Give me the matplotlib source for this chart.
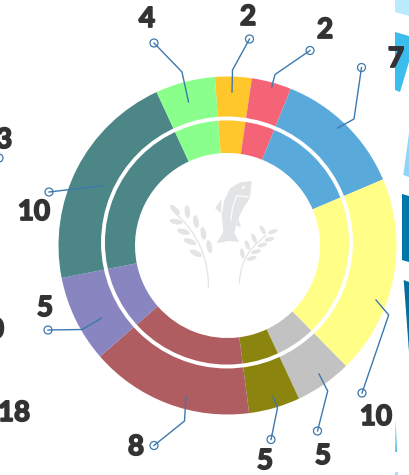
import matplotlib
matplotlib.use("Agg")
import matplotlib.pyplot as plt
import matplotlib.patheffects as pe
from matplotlib.patches import Circle, Ellipse, Polygon, PathPatch
from matplotlib.path import Path

# slice spans in degrees, clockwise from the orange one
spans = [12.6, 13.7, 45.0, 68.5, 19.5, 17.7, 56.3, 30.0, 76.3, 20.5]
colors = ["#FFC72C", "#F56476", "#5AA9DB", "#FFFF88", "#C2C2C2",
          "#8B8510", "#AF5D60", "#8885C0", "#4C8686", "#8BFF8B"]

# callout text with the text centre in pixels
labels = ["2", "2", "7", "10", "5", "5", "8", "5", "10", "4", "13", "10", "18"]
label_x = [248, 325, 396, 376, 323, 265, 136, 45, 34, 147, -4, -12, 14]
label_y = [17, 30, 59, 417, 456, 461, 447, 308, 212, 19, 140, 330, 413]

# leader lines, start on the ring and ending at the small circle
leaders = [
    [(232, 92), (232.5, 70), (249.5, 39)],
    [(271.7, 87), (275, 74.5), (310, 50.5)],
    [(337.7, 128), (354, 119), (361.5, 67.5)],
    [(376, 300), (388.7, 315), (362, 393)],
    [(319, 374), (327.7, 391), (317.5, 431)],
    [(273, 396), (277.5, 408), (271, 439.5)],
    [(186, 396.7), (184.5, 421), (154, 445.5)],
    [(101.7, 318), (82, 329.5), (48, 330)],
    [(103, 185.7), (49, 192)],
    [(188.5, 102), (182, 72), (154, 43)],
]

# bits of the next graphic that are cut by the right edge
edge_shapes = [
    ("#B9EBFD", [(395, 0), (409, 0), (409, 16), (395, 12)]),
    ("#3BBDEE", [(395, 32), (409, 36), (409, 62), (400, 92), (395, 90)]),
    ("#8FD6F6", [(409, 133), (403.3, 175), (409, 177)]),
    ("#0077AB", [(402, 194), (409, 196), (409, 262), (402, 260)]),
    ("#086E9C", [(403.7, 280), (409, 282), (409, 352)]),
    ("#2FA6DC", [(395.7, 420), (396.9, 452), (395.4, 452)]),
    ("#A9E3FB", [(395, 472), (398, 472), (398, 475), (395, 475)]),
]

LINE = "#3D78AE"
TEXT = "#333335"
LOGO = "#E3E4E6"

fig = plt.figure(figsize=(4.09, 4.75), dpi=100)
ax = fig.add_axes([0, 0, 1, 1])

# y runs downward here, so a counterclockwise pie shows up clockwise
ax.pie(spans, colors=colors, center=(227.5, 245.5), radius=169,
       startangle=-94.3, counterclock=True,
       wedgeprops={"width": 76.5, "linewidth": 0})
ax.set_xlim(0, 409)
ax.set_ylim(475, 0)
ax.set_aspect("equal")
ax.axis("off")

ax.add_patch(Circle((227, 242.5), 124, fill=False, ec="white", lw=2.8))

for pts in leaders:
    xs, ys = zip(*pts)
    ax.plot(xs, ys, color=LINE, lw=1)
    ax.add_patch(Circle(pts[-1], 4, fill=False, ec=LINE, lw=0.9))
ax.add_patch(Circle((-1, 158), 4, fill=False, ec=LINE, lw=0.9))

for txt, x, y in zip(labels, label_x, label_y):
    t = ax.text(x, y, txt, ha="center", va="center", fontsize=20,
                family="Lato", fontweight="bold", color=TEXT)
    # thicken the strokes, the original digits are very heavy
    t.set_path_effects([pe.withStroke(linewidth=1.3, foreground=TEXT)])

for col, pts in edge_shapes:
    ax.add_patch(Polygon(pts, closed=True, fc=col, ec="none"))


# logo, traced in coordinates of 3x crops
def lp(x, y):
    return 150 + x / 3, 170 + y / 3


def fp(x, y):
    return 205 + x / 3, 175 + y / 3


fish = [(140, 18), (105, 22), (75, 40), (58, 75), (50, 120), (55, 170), (35, 205),
        (70, 198), (103, 200), (88, 175), (95, 140), (115, 100), (135, 70)]
ax.add_patch(Polygon([fp(*p) for p in fish], closed=True, fc=LOGO, ec="none"))
for fin in ([(50, 72), (30, 100), (48, 115)], [(100, 130), (108, 158), (93, 150)]):
    ax.add_patch(Polygon([fp(*p) for p in fin], closed=True, fc=LOGO, ec="none"))
gill = [(132, 66), (95, 62), (82, 100), (78, 135)]
ax.plot(*zip(*[fp(*p) for p in gill]), color="white", lw=0.8)
ax.add_patch(Circle(fp(115, 37), 1.4, fc="white", ec="none"))

stems = [[(70, 125), (150, 190), (178, 280), (175, 355)],
         [(268, 340), (272, 260), (310, 225), (350, 195)]]
for st in stems:
    path = Path([lp(*p) for p in st], [Path.MOVETO, Path.CURVE4, Path.CURVE4, Path.CURVE4])
    ax.add_patch(PathPatch(path, fc="none", ec=LOGO, lw=0.9))

# x, y, angle, length
grains = [(75, 120, 45, 13), (112, 125, 85, 13), (78, 155, 10, 13), (138, 155, 80, 13),
          (100, 185, 15, 13), (160, 190, 80, 13), (120, 215, 20, 13), (178, 230, 80, 13),
          (138, 250, 25, 13),
          (277, 250, 80, 10), (292, 225, 70, 10), (312, 205, 65, 10), (338, 180, 60, 10),
          (368, 185, -20, 10), (358, 208, -15, 10), (337, 225, -15, 10), (318, 245, -15, 10),
          (305, 265, -15, 10)]
for gx, gy, ang, glen in grains:
    ax.add_patch(Ellipse(lp(gx, gy), glen, glen * 0.42, angle=ang, fc=LOGO, ec="none"))

fig.savefig("out.png", dpi=100)
